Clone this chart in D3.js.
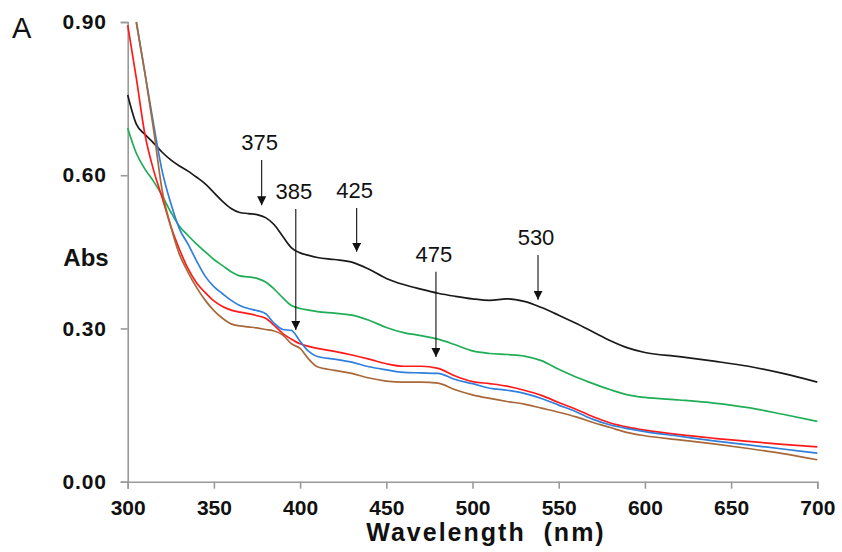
<!DOCTYPE html>
<html>
<head>
<meta charset="utf-8">
<script src="https://cdn.jsdelivr.net/npm/d3@7"></script>
<style>
  body { margin: 0; background: #fff; }
</style>
</head>
<body>
<div id="chart"></div>
<script>
/* wavelengths (nm) shared by all spectra */
var wavelengths = [300,305,310,315,320,325,330,335,340,345,350,355,360,365,370,375,380,385,390,395,400,405,410,420,430,440,450,460,470,480,490,500,510,520,530,540,550,560,570,580,590,600,620,640,660,680,700];

var blackAbs = [0.757,0.700,0.680,0.663,0.645,0.630,0.618,0.608,0.596,0.583,0.566,0.549,0.535,0.527,0.525,0.523,0.517,0.503,0.480,0.458,0.448,0.443,0.439,0.435,0.430,0.416,0.398,0.386,0.377,0.369,0.363,0.358,0.355,0.358,0.353,0.341,0.326,0.310,0.293,0.276,0.262,0.253,0.245,0.236,0.226,0.212,0.195];
var greenAbs = [0.692,0.643,0.612,0.588,0.560,0.528,0.500,0.482,0.465,0.450,0.435,0.423,0.411,0.403,0.401,0.398,0.391,0.377,0.360,0.345,0.339,0.336,0.333,0.330,0.326,0.316,0.302,0.292,0.286,0.279,0.268,0.256,0.251,0.249,0.246,0.237,0.220,0.205,0.192,0.180,0.170,0.165,0.160,0.154,0.145,0.132,0.118];
var redAbs   = [0.894,0.790,0.680,0.610,0.556,0.500,0.455,0.417,0.389,0.370,0.354,0.343,0.336,0.332,0.329,0.325,0.320,0.306,0.290,0.279,0.270,0.265,0.261,0.255,0.248,0.240,0.231,0.226,0.226,0.222,0.207,0.196,0.192,0.187,0.179,0.169,0.155,0.142,0.127,0.115,0.107,0.101,0.092,0.085,0.079,0.073,0.068];
var blueAbs  = [null,0.900,0.800,0.700,0.608,0.545,0.495,0.465,0.432,0.402,0.382,0.368,0.355,0.345,0.339,0.335,0.329,0.310,0.298,0.296,0.275,0.255,0.245,0.240,0.234,0.225,0.219,0.214,0.213,0.212,0.200,0.192,0.183,0.179,0.173,0.163,0.150,0.137,0.122,0.111,0.104,0.098,0.089,0.080,0.072,0.064,0.056];
var brownAbs = [null,0.900,0.800,0.690,0.570,0.500,0.445,0.410,0.380,0.355,0.335,0.320,0.309,0.305,0.303,0.301,0.298,0.295,0.287,0.270,0.261,0.240,0.225,0.218,0.212,0.203,0.197,0.195,0.195,0.193,0.180,0.170,0.163,0.157,0.152,0.144,0.136,0.127,0.116,0.106,0.096,0.090,0.082,0.074,0.065,0.055,0.043];

var seriesNames = ["black", "green", "red", "blue", "brown"];
var seriesValues = [blackAbs, greenAbs, redAbs, blueAbs, brownAbs];
var seriesColors = ["#1a1a1a", "#1fae55", "#ff1a1a", "#2f7fdc", "#a8683a"];

/* tick labels */
var xTicks = [300, 350, 400, 450, 500, 550, 600, 650, 700];
var yTicks = [0.00, 0.30, 0.60, 0.90];

/* peak annotations: label, arrow wavelength, arrow top / tip absorbance */
var annoLabels = ["375", "385", "425", "475", "530"];
var annoWave   = [377.7, 397.5, 432.8, 478.8, 538];
var annoTop    = [0.630, 0.534, 0.536, 0.411, 0.444];
var annoTip    = [0.541, 0.297, 0.450, 0.244, 0.356];

var W = 842, H = 552;
var plotLeft = 127.7, plotRight = 817.3, plotTop = 22, plotBottom = 481.7;
var fontFamily = "Arial, 'Liberation Sans', Helvetica, sans-serif";

var x = d3.scaleLinear().domain([300, 700]).range([plotLeft, plotRight]);
var y = d3.scaleLinear().domain([0, 0.9]).range([plotBottom, plotTop]);

var svg = d3.select("#chart").append("svg")
    .attr("width", W)
    .attr("height", H)
    .style("font-family", fontFamily);

svg.append("defs").append("marker")
    .attr("id", "arrow")
    .attr("viewBox", "0 0 10 10")
    .attr("refX", 10)
    .attr("refY", 5)
    .attr("markerUnits", "userSpaceOnUse")
    .attr("markerWidth", 9)
    .attr("markerHeight", 9)
    .attr("orient", "auto")
  .append("path")
    .attr("d", "M0,0 L10,5 L0,10 z")
    .attr("fill", "#111");

/* axes */
var xAxis = svg.append("g")
    .attr("transform", "translate(0," + plotBottom + ")")
    .call(d3.axisBottom(x).tickValues(xTicks).tickSize(7).tickPadding(11).tickFormat(d3.format("d")));

var yAxis = svg.append("g")
    .attr("transform", "translate(" + plotLeft + ",0)")
    .call(d3.axisLeft(y).tickValues(yTicks).tickSize(7).tickPadding(14).tickFormat(d3.format(".2f")));

[xAxis, yAxis].forEach(function(g) {
    g.select(".domain").attr("stroke", "#9a9a9a").attr("stroke-width", 1.6);
    g.selectAll(".tick line").attr("stroke", "#9a9a9a").attr("stroke-width", 1.6);
    g.selectAll(".tick text")
        .attr("fill", "#111")
        .attr("font-family", fontFamily)
        .attr("font-weight", "bold");
});
xAxis.selectAll(".tick text").attr("font-size", 21);
yAxis.selectAll(".tick text").attr("font-size", 21).attr("letter-spacing", 0.8);

/* spectra */
var line = d3.line()
    .defined(function(d) { return d[1] != null; })
    .x(function(d) { return x(d[0]); })
    .y(function(d) { return y(d[1]); })
    .curve(d3.curveMonotoneX);

seriesValues.forEach(function(vals, i) {
    svg.append("path")
        .datum(wavelengths.map(function(w, j) { return [w, vals[j]]; }))
        .attr("class", "spectrum " + seriesNames[i])
        .attr("fill", "none")
        .attr("stroke", seriesColors[i])
        .attr("stroke-width", 1.7)
        .attr("d", line);
});

/* annotations */
annoLabels.forEach(function(lbl, i) {
    svg.append("line")
        .attr("x1", x(annoWave[i]))
        .attr("x2", x(annoWave[i]))
        .attr("y1", y(annoTop[i]))
        .attr("y2", y(annoTip[i]))
        .attr("stroke", "#111")
        .attr("stroke-width", 1.1)
        .attr("marker-end", "url(#arrow)");
    svg.append("text")
        .attr("x", x(annoWave[i]) - 2)
        .attr("y", y(annoTop[i]) - 10)
        .attr("text-anchor", "middle")
        .attr("font-size", 22)
        .attr("fill", "#111")
        .text(lbl);
});

/* titles */
svg.append("text")
    .attr("x", 86)
    .attr("y", 266)
    .attr("text-anchor", "middle")
    .attr("font-size", 24)
    .attr("font-weight", "bold")
    .attr("fill", "#111")
    .text("Abs");

svg.append("text")
    .attr("x", 486)
    .attr("y", 541)
    .attr("text-anchor", "middle")
    .attr("font-size", 25)
    .attr("font-weight", "bold")
    .attr("letter-spacing", 2)
    .attr("fill", "#111")
    .style("white-space", "pre")
    .text("Wavelength  (nm)");

svg.append("text")
    .attr("x", 12)
    .attr("y", 38)
    .attr("font-size", 29)
    .attr("fill", "#111")
    .text("A");
</script>
</body>
</html>
